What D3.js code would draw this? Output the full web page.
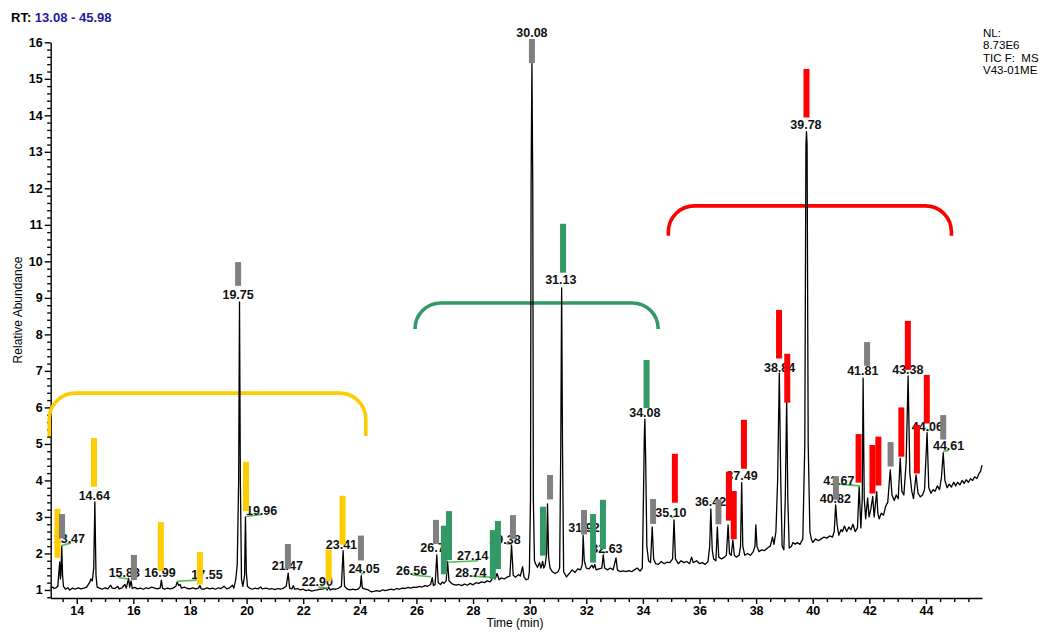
<!DOCTYPE html>
<html>
<head>
<meta charset="utf-8">
<script src="https://cdn.jsdelivr.net/npm/d3@7"></script>
<style>
  html, body { margin: 0; padding: 0; background: #fff; }
  svg { display: block; font-family: "Liberation Sans", Arial, sans-serif; }
</style>
</head>
<body>
<svg id="chart" width="1046" height="634"></svg>
<script>
// ---------------- DATA ----------------
const rtRange = [13.08, 45.98];
const xMajorTicks = [14, 16, 18, 20, 22, 24, 26, 28, 30, 32, 34, 36, 38, 40, 42, 44];
const yMajorTicks = [1, 2, 3, 4, 5, 6, 7, 8, 9, 10, 11, 12, 13, 14, 15, 16];
const headerLines = ["NL:", "8.73E6", "TIC F:  MS", "V43-01ME"];

// chromatogram trace [time (min), relative abundance]
const tracePoints = [
[13.08,1.05],[13.15,1.08],[13.2,1.04],[13.27,1.06],[13.33,1.1],[13.37,1.5],[13.40,1.77],[13.42,1.3],[13.44,1.4],[13.47,2.2],[13.5,1.4],[13.53,1.1],
[13.6,1.02],[13.68,1.06],[13.75,1.0],[13.85,1.05],[13.95,1.02],[14.05,1.06],[14.15,1.03],[14.25,1.05],[14.35,1.08],[14.45,1.2],[14.5,1.3],[14.55,1.25],
[14.6,1.6],[14.64,3.41],[14.68,1.4],[14.72,1.08],[14.8,1.05],[14.9,1.02],[15.0,1.06],[15.1,1.03],[15.2,1.13],[15.25,1.05],[15.35,1.04],[15.45,1.1],
[15.5,1.03],[15.6,1.06],[15.7,1.15],[15.75,1.05],[15.83,1.32],[15.87,1.08],[15.92,1.25],[15.96,1.04],[16.05,1.07],[16.15,1.03],[16.25,1.05],[16.35,1.02],
[16.45,1.06],[16.55,1.04],[16.65,1.08],[16.75,1.05],[16.85,1.03],[16.95,1.06],[16.99,1.27],[17.03,1.05],[17.1,1.02],[17.2,1.05],[17.3,1.03],[17.4,1.05],
[17.5,1.1],[17.55,1.22],[17.6,1.12],[17.65,1.15],[17.7,1.05],[17.8,1.08],[17.9,1.04],[18.0,1.03],[18.1,1.06],[18.2,1.03],[18.3,1.05],[18.35,1.12],
[18.4,1.03],[18.5,1.02],[18.6,1.06],[18.7,1.03],[18.8,1.05],[18.9,1.02],[19.0,1.06],[19.1,1.04],[19.2,1.1],[19.3,1.03],[19.4,1.06],[19.5,1.13],
[19.55,1.05],[19.62,1.3],[19.67,1.7],[19.72,4.0],[19.75,8.89],[19.78,4.0],[19.82,1.3],[19.87,1.1],[19.93,1.4],[19.96,3.0],[19.99,1.5],[20.03,1.1],
[20.1,1.05],[20.2,1.02],[20.3,1.05],[20.4,1.03],[20.5,1.08],[20.55,1.03],[20.7,1.05],[20.8,1.02],[20.9,1.04],[21.0,1.01],[21.1,1.04],[21.2,1.02],
[21.3,1.05],[21.4,1.1],[21.47,1.46],[21.52,1.05],[21.6,1.03],[21.65,1.12],[21.7,1.02],[21.8,1.04],[21.9,1.0],[22.0,1.02],[22.1,0.98],[22.2,1.0],
[22.3,0.97],[22.4,0.99],[22.5,1.0],[22.6,1.02],[22.7,1.03],[22.8,1.05],[22.85,1.0],[22.9,1.08],[22.95,1.0],[23.05,1.03],[23.15,1.02],[23.25,1.05],
[23.35,1.1],[23.41,2.08],[23.46,1.1],[23.55,1.03],[23.65,1.0],[23.75,1.02],[23.85,1.0],[23.95,1.03],[24.02,1.1],[24.05,1.39],[24.09,1.05],[24.2,1.02],
[24.3,1.0],[24.4,0.95],[24.5,0.96],[24.6,0.98],[24.7,0.96],[24.8,1.0],[24.9,0.98],[25.0,1.0],[25.1,1.02],[25.2,1.0],[25.3,1.04],[25.4,1.02],
[25.5,1.05],[25.6,1.04],[25.7,1.07],[25.8,1.05],[25.9,1.08],[26.0,1.07],[26.1,1.1],[26.2,1.08],[26.3,1.12],[26.4,1.1],[26.5,1.15],[26.56,1.34],
[26.6,1.12],[26.66,1.15],[26.72,1.96],[26.77,1.2],[26.85,1.15],[26.92,1.22],[26.97,1.18],[27.05,1.25],[27.1,1.78],[27.15,1.25],[27.22,1.2],[27.3,1.15],
[27.4,1.13],[27.5,1.15],[27.6,1.12],[27.7,1.16],[27.8,1.13],[27.9,1.18],[28.0,1.14],[28.1,1.2],[28.2,1.18],[28.3,1.22],[28.4,1.2],[28.5,1.25],
[28.6,1.22],[28.66,1.28],[28.72,1.5],[28.78,1.3],[28.85,1.45],[28.92,1.28],[29.0,1.33],[29.1,1.3],[29.2,1.35],[29.3,1.38],[29.36,2.23],[29.42,1.4],
[29.5,1.35],[29.6,1.42],[29.67,1.38],[29.75,1.64],[29.8,1.35],[29.88,1.28],[29.95,1.3],[29.99,1.5],[30.03,3.5],[30.05,12.0],[30.08,15.45],[30.11,12.0],
[30.13,3.5],[30.17,1.8],[30.22,1.7],[30.28,1.62],[30.35,1.75],[30.4,1.6],[30.46,1.78],[30.5,1.6],[30.55,1.7],[30.6,2.0],[30.63,3.36],[30.67,1.9],
[30.72,1.6],[30.8,1.5],[30.9,1.45],[31.0,1.5],[31.06,1.6],[31.1,5.0],[31.13,9.27],[31.16,5.0],[31.2,1.5],[31.3,1.36],[31.4,1.45],[31.5,1.55],
[31.6,1.48],[31.7,1.58],[31.8,1.55],[31.86,1.7],[31.89,2.5],[31.93,1.8],[32.0,1.6],[32.1,1.58],[32.2,1.68],[32.25,1.6],[32.3,1.7],[32.35,1.55],
[32.45,1.58],[32.55,1.6],[32.6,1.96],[32.65,1.6],[32.75,1.55],[32.85,1.6],[32.95,1.55],[33.05,1.88],[33.1,1.55],[33.2,1.5],[33.3,1.52],[33.4,1.5],
[33.5,1.53],[33.6,1.5],[33.7,1.55],[33.8,1.6],[33.9,1.52],[33.98,1.6],[34.02,3.5],[34.05,5.2],[34.07,5.68],[34.1,4.5],[34.14,2.2],[34.2,1.8],
[34.27,1.75],[34.33,2.73],[34.38,1.85],[34.45,1.72],[34.55,1.7],[34.65,1.78],[34.75,1.72],[34.85,1.76],[34.95,1.75],[35.05,1.85],[35.1,2.92],[35.15,1.85],
[35.25,1.72],[35.35,1.8],[35.45,1.75],[35.55,1.78],[35.65,1.72],[35.72,1.9],[35.78,1.75],[35.9,1.8],[36.0,1.72],[36.1,1.75],[36.2,1.7],[36.3,1.78],
[36.36,2.2],[36.4,3.22],[36.45,2.1],[36.5,1.85],[36.58,1.8],[36.63,2.73],[36.68,1.9],[36.78,1.85],[36.88,1.9],[36.95,1.95],[37.01,2.78],[37.06,2.0],
[37.12,1.95],[37.18,2.37],[37.23,1.95],[37.3,1.9],[37.4,1.95],[37.45,2.2],[37.49,3.94],[37.53,2.2],[37.6,1.95],[37.7,2.0],[37.8,1.95],[37.9,2.05],
[37.96,2.2],[37.99,2.78],[38.03,2.2],[38.1,2.05],[38.2,2.1],[38.3,2.08],[38.4,2.15],[38.5,2.2],[38.58,2.45],[38.63,2.25],[38.7,2.6],[38.76,4.0],
[38.82,6.94],[38.87,4.0],[38.92,2.2],[38.98,2.1],[39.03,3.5],[39.08,6.2],[39.12,3.5],[39.17,2.15],[39.25,2.2],[39.3,2.3],[39.38,2.25],[39.45,2.3],
[39.55,2.25],[39.65,2.4],[39.72,5.0],[39.76,13.2],[39.78,13.55],[39.8,13.2],[39.84,5.0],[39.9,2.6],[39.95,2.4],[40.0,2.3],[40.1,2.4],[40.2,2.35],
[40.3,2.4],[40.4,2.45],[40.5,2.42],[40.6,2.48],[40.7,2.45],[40.76,2.6],[40.81,3.33],[40.86,2.8],[40.92,2.5],[41.0,2.65],[41.05,2.6],[41.12,2.75],
[41.2,2.6],[41.28,2.72],[41.35,2.65],[41.42,2.8],[41.5,2.6],[41.58,2.7],[41.64,3.83],[41.7,2.7],[41.75,3.5],[41.78,6.8],[41.82,3.5],[41.87,2.95],
[41.94,3.52],[41.99,3.0],[42.05,3.2],[42.12,3.56],[42.17,3.0],[42.26,3.69],[42.3,3.1],[42.35,2.95],[42.42,3.1],[42.5,3.05],[42.58,3.3],[42.65,3.4],
[42.74,4.29],[42.8,3.6],[42.88,3.45],[42.95,3.6],[43.02,3.5],[43.09,4.61],[43.15,3.7],[43.22,3.6],[43.3,4.5],[43.37,6.86],[43.43,4.2],[43.5,3.7],
[43.56,3.5],[43.65,4.15],[43.72,3.65],[43.8,3.55],[43.88,3.6],[43.95,3.75],[44.04,5.31],[44.1,3.8],[44.18,3.65],[44.25,3.75],[44.32,3.7],[44.4,3.85],
[44.48,3.75],[44.55,4.1],[44.61,4.76],[44.67,4.0],[44.75,3.8],[44.82,3.9],[44.9,3.82],[44.98,3.95],[45.05,3.85],[45.12,3.95],[45.2,3.88],[45.28,4.0],
[45.35,3.92],[45.42,4.02],[45.5,3.95],[45.58,4.05],[45.65,4.0],[45.72,4.1],[45.8,4.05],[45.88,4.2],[45.93,4.25],[45.98,4.42]
];

// peak labels: text, centre time, centre abundance
const labelTexts = ["13.47","14.64","15.83","16.99","17.55","19.75","19.96","21.47","22.90","23.41","24.05","26.56","26.75","27.14","28.74","29.38",
  "30.08","31.13","31.92","32.63","34.08","35.10","36.42","37.49","38.84","39.78","40.82","41.67","41.81","43.38","44.06","44.61"];
const labelTimes = [13.74,14.62,15.68,16.94,18.60,19.70,20.53,21.44,22.50,23.35,24.15,25.83,26.69,27.99,27.92,29.13,
  30.08,31.10,31.92,32.73,34.07,34.99,36.39,37.50,38.83,39.76,40.80,40.92,41.77,43.36,44.05,44.80];
const labelValues = [2.40,3.58,1.47,1.47,1.41,9.08,3.19,1.67,1.23,2.25,1.59,1.52,2.16,1.94,1.48,2.39,
  16.27,9.49,2.71,2.14,5.87,3.13,3.42,4.13,7.10,13.76,3.51,4.01,7.00,7.04,5.47,4.96];

// green leader lines from peak to label: [t1, v1, t2, v2]
const leaderLines = [
  [13.44,2.21,13.80,2.29],[15.47,1.34,15.82,1.30],[17.53,1.24,18.24,1.27],[19.97,3.01,20.53,3.07],
  [22.53,1.09,22.88,1.05],[24.04,1.43,24.18,1.48],[25.85,1.41,26.51,1.36],[27.10,1.76,28.18,1.80],
  [27.95,1.38,28.60,1.35],[29.13,2.28,29.36,2.25],[32.60,2.00,32.72,2.05],[34.95,3.03,35.07,2.98],
  [40.93,3.90,41.67,3.85],[44.04,5.35,44.16,5.40],[44.61,4.79,44.82,4.83]
];

// marker bars: time, top abundance, bottom abundance, class
const barTimes   = [13.32,14.61,16.97,18.35,19.98,22.90,23.39,
  13.48,16.02,19.70,21.46,24.04,26.69,29.41,30.08,30.72,31.92,34.36,36.67,40.82,41.92,42.75,44.61,
  26.97,27.15,28.70,28.88,30.47,31.18,32.24,32.59,34.13,
  35.13,37.04,37.21,37.57,38.81,39.10,39.78,41.62,42.11,42.32,43.13,43.36,43.68,44.03];
const barTops    = [3.22,5.16,2.86,2.04,4.51,2.11,3.58,
  3.08,1.96,9.98,2.26,2.49,2.92,3.05,16.09,4.15,3.19,3.49,3.48,4.12,7.79,5.05,5.79,
  2.76,3.16,2.64,2.89,3.28,11.03,3.08,3.47,7.30,
  4.73,4.24,3.71,5.66,8.67,7.47,15.27,5.27,4.97,5.20,6.00,8.37,5.52,6.89];
const barBottoms = [1.88,3.83,1.52,1.15,3.16,1.24,2.24,
  2.41,1.27,9.33,1.58,1.81,2.26,2.39,15.43,3.48,2.52,2.81,2.80,3.47,7.14,4.38,5.12,
  1.43,1.82,1.30,1.57,1.94,9.69,1.75,2.12,5.98,
  3.39,2.90,2.39,4.32,7.34,6.13,13.94,3.94,3.64,3.86,4.65,7.03,4.19,5.56];
const barGroups  = ["Y","Y","Y","Y","Y","Y","Y",
  "G","G","G","G","G","G","G","G","G","G","G","G","G","G","G","G",
  "N","N","N","N","N","N","N","N","N",
  "R","R","R","R","R","R","R","R","R","R","R","R","R","R"];

// group brackets: left time, right time, top abundance, leg-end abundance, class
const bracketLeft   = [13.03, 25.95, 34.90];
const bracketRight  = [24.21, 34.54, 44.90];
const bracketTop    = [6.39, 8.86, 11.52];
const bracketBottom = [5.22, 8.15, 10.70];
const bracketGroups = ["Y", "N", "R"];

// ---------------- STYLE ----------------
const groupColor = { Y: "#FFCC00", G: "#808080", N: "#339966", R: "#FF0000" };

// ---------------- DRAW ----------------
const svg = d3.select("#chart");
const x = d3.scaleLinear().domain(rtRange).range([50.7, 982]);
const y = d3.scaleLinear().domain([0.78, 16]).range([598, 42.3]);

// header
const rt = svg.append("text").attr("x", 11).attr("y", 22)
  .attr("font-size", 13).attr("font-weight", "bold");
rt.append("tspan").attr("fill", "#000").text("RT: ");
rt.append("tspan").attr("fill", "#1c1c9c").text(rtRange[0].toFixed(2) + " - " + rtRange[1].toFixed(2));

svg.append("g").selectAll("text").data(headerLines).join("text")
  .attr("x", 983).attr("y", (d, i) => 37 + i * 12.4)
  .attr("font-size", 11.5).attr("fill", "#000")
  .attr("xml:space", "preserve").style("white-space", "pre")
  .text(d => d);

// axes
const axisFont = g => g.selectAll("text").attr("font-size", 12.5).attr("font-weight", "bold")
  .attr("fill", "#000").attr("font-family", "'Liberation Sans', Arial, sans-serif");

const xAxis = svg.append("g").attr("transform", "translate(0,598)")
  .call(d3.axisBottom(x).tickValues(xMajorTicks).tickSize(6).tickSizeOuter(0).tickPadding(2).tickFormat(d3.format("d")));
xAxis.call(axisFont);
const xMinor = d3.range(13.5, 46, 0.5).filter(v => xMajorTicks.indexOf(v) < 0);
svg.append("g").attr("transform", "translate(0,598)")
  .call(d3.axisBottom(x).tickValues(xMinor).tickSize(4).tickSizeOuter(0).tickFormat(""))
  .call(g => g.select(".domain").remove());

const yAxis = svg.append("g").attr("transform", "translate(50.7,0)")
  .call(d3.axisLeft(y).tickValues(yMajorTicks).tickSize(6).tickSizeOuter(0).tickPadding(2).tickFormat(d3.format("d")));
yAxis.call(axisFont);
const yMinor = d3.range(8, 160, 2).map(v => v / 10).filter(v => Math.abs(v - Math.round(v)) > 0.01);
svg.append("g").attr("transform", "translate(50.7,0)")
  .call(d3.axisLeft(y).tickValues(yMinor).tickSize(3.5).tickSizeOuter(0).tickFormat(""))
  .call(g => g.select(".domain").remove());
svg.selectAll(".domain, .tick line").attr("stroke", "#000").attr("stroke-width", 1.4);

svg.append("text").attr("x", 515).attr("y", 627).attr("text-anchor", "middle")
  .attr("font-size", 12).attr("fill", "#000").text("Time (min)");
svg.append("text").attr("transform", "translate(22,310) rotate(-90)").attr("text-anchor", "middle")
  .attr("font-size", 12).attr("fill", "#000").text("Relative Abundance");

// brackets
const bracketPath = i => {
  const l = x(bracketLeft[i]), r = x(bracketRight[i]);
  const t = y(bracketTop[i]), b = y(bracketBottom[i]);
  const rad = Math.min(26, b - t);
  return `M${l},${b} L${l},${t + rad} A${rad},${rad} 0 0 1 ${l + rad},${t} L${r - rad},${t} A${rad},${rad} 0 0 1 ${r},${t + rad} L${r},${b}`;
};
svg.append("g").selectAll("path").data(bracketGroups).join("path")
  .attr("d", (d, i) => bracketPath(i))
  .attr("fill", "none").attr("stroke", d => groupColor[d]).attr("stroke-width", 3.6);

// trace
svg.append("path").datum(tracePoints)
  .attr("d", d3.line().x(d => x(d[0])).y(d => y(d[1])))
  .attr("fill", "none").attr("stroke", "#000").attr("stroke-width", 1.3).attr("stroke-linejoin", "round");

// leaders
svg.append("g").selectAll("line").data(leaderLines).join("line")
  .attr("x1", d => x(d[0])).attr("y1", d => y(d[1]))
  .attr("x2", d => x(d[2])).attr("y2", d => y(d[3]))
  .attr("stroke", "#55bb55").attr("stroke-width", 1.6);

// labels
svg.append("g").selectAll("text").data(labelTexts).join("text")
  .attr("x", (d, i) => x(labelTimes[i])).attr("y", (d, i) => y(labelValues[i]))
  .attr("dy", "0.36em").attr("text-anchor", "middle")
  .attr("font-size", 12.5).attr("font-weight", "bold").attr("fill", "#111")
  .text(d => d);

// bars
svg.append("g").selectAll("rect").data(barTimes).join("rect")
  .attr("x", d => x(d) - 3).attr("width", 6)
  .attr("y", (d, i) => y(barTops[i]))
  .attr("height", (d, i) => y(barBottoms[i]) - y(barTops[i]))
  .attr("fill", (d, i) => groupColor[barGroups[i]]);
</script>
</body>
</html>
